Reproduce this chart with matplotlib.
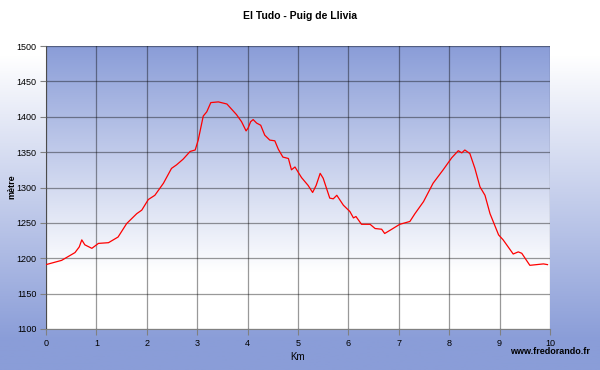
import numpy as np
import matplotlib
matplotlib.use("Agg")
import matplotlib.pyplot as plt
from matplotlib.colors import LinearSegmentedColormap

plt.rcParams['font.family'] = ['Liberation Sans', 'DejaVu Sans']

# Elevation profile
km = [0.0, 0.31, 0.575, 0.66, 0.71, 0.77, 0.91, 1.04, 1.24, 1.43, 1.6, 1.8, 1.9,
      2.03, 2.16, 2.33, 2.49, 2.59, 2.72, 2.86, 2.96, 3.02, 3.12, 3.19, 3.27,
      3.42, 3.59, 3.78, 3.88, 3.97, 4.01, 4.06, 4.11, 4.18, 4.26, 4.34, 4.44,
      4.54, 4.61, 4.7, 4.81, 4.87, 4.94, 5.07, 5.2, 5.29, 5.36, 5.44, 5.5,
      5.63, 5.7, 5.77, 5.9, 6.03, 6.1, 6.15, 6.26, 6.43, 6.53, 6.66, 6.72,
      6.86, 7.02, 7.22, 7.32, 7.49, 7.68, 7.88, 8.05, 8.18, 8.25, 8.31, 8.41,
      8.51, 8.61, 8.71, 8.81, 8.98, 9.07, 9.14, 9.27, 9.37, 9.44, 9.6, 9.87,
      9.95]
alt = [1191, 1197, 1208, 1216, 1226, 1219, 1214, 1221, 1222, 1230, 1249, 1263,
       1268, 1283, 1289, 1306, 1327, 1332, 1340, 1351, 1353, 1367, 1401, 1407,
       1420, 1421, 1418, 1403, 1393, 1380, 1384, 1393, 1396, 1391, 1388, 1374,
       1367, 1366, 1354, 1343, 1341, 1325, 1329, 1314, 1303, 1293, 1303, 1320,
       1313, 1285, 1284, 1289, 1275, 1266, 1257, 1259, 1248, 1248, 1242, 1241,
       1235, 1241, 1248, 1252, 1263, 1280, 1306, 1325, 1342, 1352, 1349, 1353,
       1348, 1327, 1301, 1289, 1263, 1233, 1226, 1219, 1206, 1209, 1207, 1190,
       1192, 1191]

title = "El Tudo - Puig de Llivia"
blue = "#8a9dd8"

fig = plt.figure(figsize=(6, 3.7), dpi=100)

# figure background: white at top to blue at bottom
bg = fig.add_axes([0, 0, 1, 1], zorder=-10)
bg.axis('off')
cmap_bg = LinearSegmentedColormap.from_list(
    "bg", [(0, "white"), (0.15, "white"), (0.92, blue), (1, blue)])
bg.imshow(np.linspace(0, 1, 256).reshape(-1, 1), aspect='auto',
          extent=[0, 1, 0, 1], origin='upper', cmap=cmap_bg)

ax = fig.add_axes([46/600, 1 - 329/370, 504/600, 283/370])

# plot area: blue at top fading to white near 1190 m
cmap_pl = LinearSegmentedColormap.from_list("pl", [(0, "white"), (0.2, "white"), (1, blue)])
ax.imshow(np.linspace(0, 1, 256).reshape(-1, 1), aspect='auto', origin='lower',
          extent=[0, 10, 1100, 1500], cmap=cmap_pl, zorder=0)

ax.plot(km, alt, color='red', lw=0.9, zorder=3)

ax.set_xlim(0, 10)
ax.set_ylim(1100, 1500)
ax.set_xticks(range(0, 11))
ax.set_yticks(range(1100, 1501, 50))
ax.grid(True, color='black', alpha=0.4, lw=0.9, zorder=1)
ax.set_axisbelow(False)
for s in ['top', 'right']:
    ax.spines[s].set_visible(False)
for s in ['left', 'bottom']:
    ax.spines[s].set_color('#808080')
ax.tick_params(labelsize=6.5, length=4.5, color='#808080', pad=2.5)

ax.set_xlabel("Km", fontsize=7, labelpad=3)
fig.text(12/600, 1 - 187/370, "mètre", rotation=90, ha='center', va='center',
         fontsize=6.5, fontweight='bold')
fig.text(0.5, 1 - 16/370, title, ha='center', va='center', fontsize=7.5, fontweight='bold')
fig.text(590/600, 1 - 352/370, "www.fredorando.fr", ha='right', va='center',
         fontsize=6.5, fontweight='bold')

fig.savefig("out.png", dpi=100)
